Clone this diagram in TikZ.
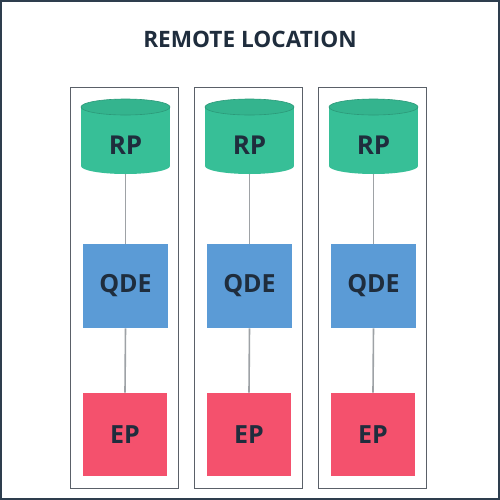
\documentclass[tikz,border=0pt]{standalone}
\usepackage{fontspec}
\setmainfont{Open Sans}
\definecolor{frame}{HTML}{2E3E4E}
\definecolor{colline}{HTML}{5A6068}
\definecolor{conn}{HTML}{9EA2A6}
\definecolor{rpgreen}{HTML}{37BF97}
\definecolor{rptop}{HTML}{34B48E}
\definecolor{qdeblue}{HTML}{5B9BD6}
\definecolor{epred}{HTML}{F4516D}
\definecolor{txt}{HTML}{1F2D3D}
\begin{document}
\begin{tikzpicture}[x=0.5pt,y=-0.5pt,
  colbox/.style={draw=colline,line width=0.5pt,minimum width=54pt,minimum height=200.5pt,inner sep=0pt},
  qdebox/.style={fill=qdeblue,minimum width=42.5pt,minimum height=42pt,inner sep=0pt,font=\bfseries\fontsize{12.5}{14}\selectfont,text=txt},
  epbox/.style={fill=epred,minimum width=42pt,minimum height=41.5pt,inner sep=0pt,font=\bfseries\fontsize{12.5}{14}\selectfont,text=txt},
  rplabel/.style={inner sep=0pt,font=\bfseries\fontsize{13}{15}\selectfont,text=txt},
  rpshape/.style={minimum width=44.5pt,minimum height=37.5pt,inner sep=0pt},
  conline/.style={draw=conn,line width=0.8pt},
  titlestyle/.style={font=\bfseries\fontsize{11.3}{13}\selectfont,text=txt}]
\useasboundingbox (0,0) rectangle (500,500);
\fill[white] (0,0) rectangle (500,500);
\draw[frame,line width=1.2pt] (1,1) rectangle (499,499);
\node[titlestyle] (title) at (250,39) {REMOTE LOCATION};
\foreach \i/\c in {1/125,2/249,3/373}{
  \node[colbox] (col\i) at (\c,287.5) {};
  % cylinder
  \fill[rpgreen] (\c+0.5,166) ellipse [x radius=44.5, y radius=8];
  \fill[rpgreen] (\c-44,107) rectangle (\c+45,166);
  \filldraw[fill=rptop,draw=rpgreen!80!black,line width=0.3pt] (\c+0.5,107) ellipse [x radius=44.5, y radius=8];
  \node[rpshape] (rps\i) at (\c+0.5,136.5) {};
  \node[rplabel] (rp\i) at (\c+0.5,145) {RP};
  \node[qdebox] (qde\i) at (\c+0.5,286) {QDE};
  \node[epbox] (ep\i) at (\c,434.5) {EP};
  \draw[conline] (rps\i.south) -- (qde\i.north);
  \draw[conline] (qde\i.south) -- (ep\i.north);
}
\end{tikzpicture}
\end{document}
